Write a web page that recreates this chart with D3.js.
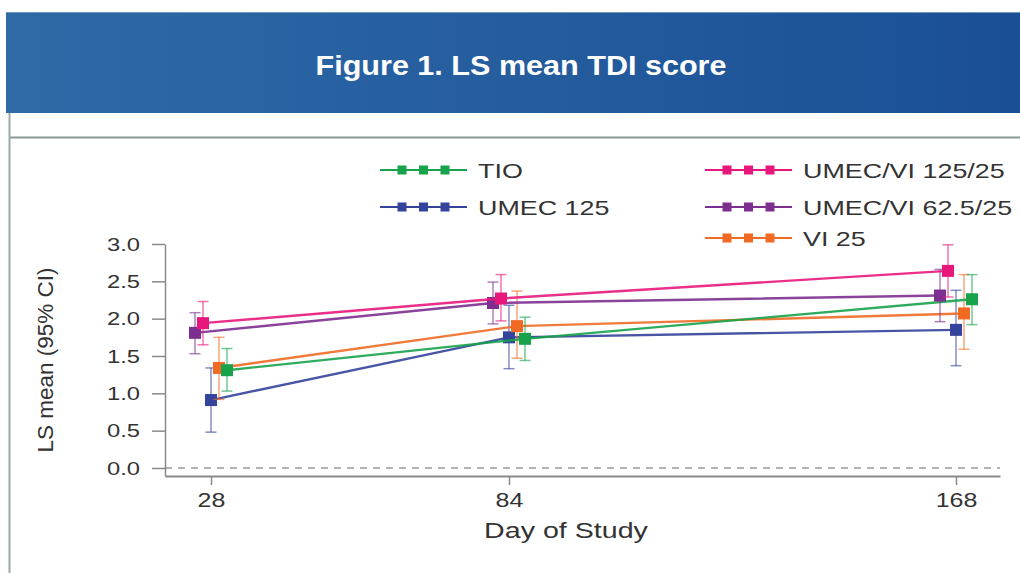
<!DOCTYPE html>
<html>
<head>
<meta charset="utf-8">
<script src="https://cdn.jsdelivr.net/npm/d3@7/dist/d3.min.js"></script>
<style>
  html, body { margin: 0; padding: 0; background: #fff; }
  svg { display: block; font-family: "Liberation Sans", Arial, sans-serif; }
</style>
</head>
<body>
<svg id="chart" width="1020" height="573"></svg>
<script>
// Study days on the x axis
const days = [28, 84, 168];

// Series names, in legend order
const seriesNames = ["TIO", "UMEC 125", "UMEC/VI 125/25", "UMEC/VI 62.5/25", "VI 25"];

// LS mean TDI score per series at each day, with 95% CI bounds
const tioMean = [1.31, 1.73, 2.26];
const tioLow  = [1.03, 1.44, 1.92];
const tioHigh = [1.60, 2.02, 2.59];

const umecMean = [0.91, 1.75, 1.85];
const umecLow  = [0.48, 1.33, 1.37];
const umecHigh = [1.34, 2.18, 2.38];

const umecVi125Mean = [1.94, 2.27, 2.64];
const umecVi125Low  = [1.65, 1.97, 2.29];
const umecVi125High = [2.23, 2.59, 2.99];

const umecVi62Mean = [1.81, 2.21, 2.31];
const umecVi62Low  = [1.53, 1.93, 1.96];
const umecVi62High = [2.08, 2.49, 2.66];

const viMean = [1.34, 1.90, 2.07];
const viLow  = [0.92, 1.47, 1.59];
const viHigh = [1.75, 2.37, 2.59];

const yTicks = [0, 0.5, 1, 1.5, 2, 2.5, 3];

const colors = {
  "TIO": "#17a24b",
  "UMEC 125": "#34439b",
  "UMEC/VI 125/25": "#e8177c",
  "UMEC/VI 62.5/25": "#7c2f8f",
  "VI 25": "#f06a24"
};

const series = [
  { name: "TIO", mean: tioMean, low: tioLow, high: tioHigh },
  { name: "UMEC 125", mean: umecMean, low: umecLow, high: umecHigh },
  { name: "UMEC/VI 125/25", mean: umecVi125Mean, low: umecVi125Low, high: umecVi125High },
  { name: "UMEC/VI 62.5/25", mean: umecVi62Mean, low: umecVi62Low, high: umecVi62High },
  { name: "VI 25", mean: viMean, low: viLow, high: viHigh }
].map(s => ({
  ...s,
  points: days.map((d, i) => ({ day: d, mean: s.mean[i], low: s.low[i], high: s.high[i] }))
}));

const svg = d3.select("#chart");

// Widen text horizontally by factor k, keeping its anchor
function stretch(sel, k) {
  sel.each(function () {
    const w = this.getComputedTextLength();
    d3.select(this).attr("textLength", w * k).attr("lengthAdjust", "spacingAndGlyphs");
  });
}

// ---- Header band ----
const defs = svg.append("defs");
const grad = defs.append("linearGradient").attr("id", "hdr").attr("x1", 0).attr("x2", 1).attr("y1", 0).attr("y2", 0);
grad.append("stop").attr("offset", 0).attr("stop-color", "#2f6aa7");
grad.append("stop").attr("offset", 1).attr("stop-color", "#1a4f95");

svg.append("rect").attr("x", 6).attr("y", 12).attr("width", 1014).attr("height", 101).attr("fill", "url(#hdr)");
svg.append("line").attr("x1", 6).attr("x2", 1020).attr("y1", 12.5).attr("y2", 12.5)
  .attr("stroke", "#6f97c4").attr("stroke-width", 1);

svg.append("text")
  .attr("x", 521).attr("y", 75)
  .attr("text-anchor", "middle")
  .attr("fill", "#ffffff")
  .attr("font-weight", "bold")
  .attr("font-size", 28)
  .attr("textLength", 411)
  .attr("lengthAdjust", "spacingAndGlyphs")
  .text("Figure 1. LS mean TDI score");

// Frame lines below header
svg.append("line").attr("x1", 9).attr("x2", 1020).attr("y1", 137.5).attr("y2", 137.5)
  .attr("stroke", "#8c9896").attr("stroke-width", 2);
svg.append("line").attr("x1", 9.5).attr("x2", 9.5).attr("y1", 113).attr("y2", 573)
  .attr("stroke", "#9aabab").attr("stroke-width", 2);

// ---- Scales ----
const x = d3.scaleLinear().domain([28, 168]).range([211, 956]);
const y = d3.scaleLinear().domain([0, 3]).range([468, 244]);

const axisLeftX = 165, axisRightX = 1000, axisBottomY = 476;
const xAxisScale = x.copy().domain([x.invert(axisLeftX), x.invert(axisRightX)]).range([axisLeftX, axisRightX]);
const yAxisScale = y.copy().domain([y.invert(axisBottomY), 3]).range([axisBottomY, 244]);

// Horizontal offset of each series around a day
const dodge = d3.scalePoint()
  .domain(["UMEC/VI 62.5/25", "UMEC/VI 125/25", "UMEC 125", "VI 25", "TIO"])
  .range([-16, 16]);

const px = (name, day) => x(day) + dodge(name);

const axisColor = "#8a8a8a";
const labelColor = "#333333";

// Reference line at zero
svg.append("line")
  .attr("x1", axisLeftX).attr("x2", axisRightX)
  .attr("y1", y(0)).attr("y2", y(0))
  .attr("stroke", "#9a9a9a").attr("stroke-width", 1.5)
  .attr("stroke-dasharray", "7,6");

// ---- Axes ----
const yAxis = svg.append("g")
  .attr("transform", `translate(${axisLeftX},0)`)
  .call(d3.axisLeft(yAxisScale).tickValues(yTicks).tickFormat(d3.format(".1f")).tickSize(13).tickSizeOuter(0).tickPadding(12));
yAxis.select(".domain").attr("stroke", axisColor).attr("stroke-width", 1.5);
yAxis.selectAll(".tick line").attr("stroke", axisColor).attr("stroke-width", 1.5);
yAxis.selectAll(".tick text").attr("fill", labelColor).attr("font-size", 19).attr("font-family", "Liberation Sans, Arial, sans-serif");
stretch(yAxis.selectAll(".tick text"), 1.25);

const xAxis = svg.append("g")
  .attr("transform", `translate(0,${axisBottomY})`)
  .call(d3.axisBottom(xAxisScale).tickValues(days).tickFormat(d3.format("d")).tickSize(9).tickSizeOuter(0).tickPadding(8));
xAxis.select(".domain").attr("stroke", axisColor).attr("stroke-width", 2);
xAxis.selectAll(".tick line").attr("stroke", axisColor).attr("stroke-width", 1.5);
xAxis.selectAll(".tick text").attr("fill", labelColor).attr("font-size", 20).attr("font-family", "Liberation Sans, Arial, sans-serif");
stretch(xAxis.selectAll(".tick text"), 1.25);

svg.append("text")
  .attr("transform", "translate(53,360) rotate(-90)")
  .attr("text-anchor", "middle")
  .attr("fill", labelColor)
  .attr("font-size", 22.5)
  .text("LS mean (95% CI)");

const xTitle = svg.append("text")
  .attr("x", 566).attr("y", 538)
  .attr("text-anchor", "middle")
  .attr("fill", labelColor)
  .attr("font-size", 22)
  .text("Day of Study");
stretch(xTitle, 1.3);

// ---- Series ----
const line = d3.line();
const drawOrder = ["UMEC 125", "VI 25", "TIO", "UMEC/VI 62.5/25", "UMEC/VI 125/25"];
const ordered = drawOrder.map(n => series.find(s => s.name === n));

const capW = 5.5;
const gSeries = svg.append("g");
ordered.forEach(s => {
  const c = colors[s.name];
  const g = gSeries.append("g");
  // connecting line
  g.append("path")
    .attr("d", line(s.points.map(p => [px(s.name, p.day), y(p.mean)])))
    .attr("fill", "none")
    .attr("stroke", c)
    .attr("stroke-opacity", 0.9)
    .attr("stroke-width", 2.4);
  // confidence intervals
  s.points.forEach(p => {
    const cx = px(s.name, p.day);
    const eg = g.append("g").attr("stroke", c).attr("stroke-opacity", 0.6).attr("stroke-width", 1.5);
    eg.append("line").attr("x1", cx).attr("x2", cx).attr("y1", y(p.low)).attr("y2", y(p.high));
    eg.append("line").attr("x1", cx - capW).attr("x2", cx + capW).attr("y1", y(p.low)).attr("y2", y(p.low));
    eg.append("line").attr("x1", cx - capW).attr("x2", cx + capW).attr("y1", y(p.high)).attr("y2", y(p.high));
  });
  // mean markers
  g.selectAll("rect.m").data(s.points).join("rect")
    .attr("class", "m")
    .attr("x", p => px(s.name, p.day) - 6)
    .attr("y", p => y(p.mean) - 6)
    .attr("width", 12).attr("height", 12)
    .attr("fill", c);
});

// ---- Legend ----
const legendItems = [
  { name: "TIO", x: 380, y: 170 },
  { name: "UMEC 125", x: 380, y: 207 },
  { name: "UMEC/VI 125/25", x: 705, y: 170 },
  { name: "UMEC/VI 62.5/25", x: 705, y: 207 },
  { name: "VI 25", x: 705, y: 238 }
];
const lg = svg.append("g");
legendItems.forEach(it => {
  const c = colors[it.name];
  const g = lg.append("g").attr("transform", `translate(${it.x},${it.y})`);
  g.append("line").attr("x1", 0).attr("x2", 87).attr("y1", 0).attr("y2", 0)
    .attr("stroke", c).attr("stroke-width", 2);
  [22, 43.5, 65].forEach(cx => {
    g.append("rect").attr("x", cx - 4.5).attr("y", -4.5).attr("width", 9).attr("height", 9).attr("fill", c);
  });
  const t = g.append("text").attr("x", 98).attr("y", 0).attr("dy", "0.36em")
    .attr("fill", labelColor).attr("font-size", 21)
    .text(it.name);
  stretch(t, 1.28);
});
</script>
</body>
</html>
